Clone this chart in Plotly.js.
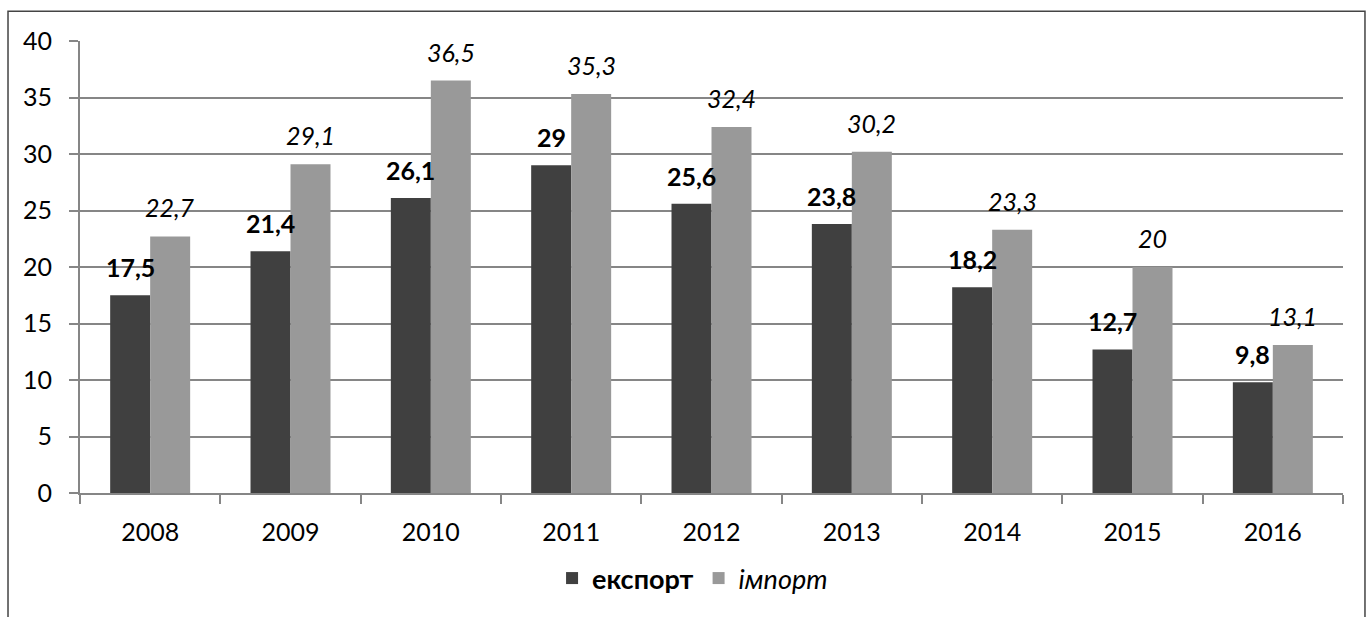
<!DOCTYPE html>
<html>
<head>
<meta charset="utf-8">
<script src="https://cdn.plot.ly/plotly-3.0.1.min.js"></script>
<style>
html,body{margin:0;padding:0;background:#fff;}
#chart{width:1370px;height:617px;}
</style>
</head>
<body>
<div id="chart"></div>
<script>
const years = ['2008','2009','2010','2011','2012','2013','2014','2015','2016'];
const exportValues = [17.5, 21.4, 26.1, 29, 25.6, 23.8, 18.2, 12.7, 9.8];
const importValues = [22.7, 29.1, 36.5, 35.3, 32.4, 30.2, 23.3, 20, 13.1];
const exportName = 'експорт';
const importName = 'імпорт';
const yTicks = [0, 5, 10, 15, 20, 25, 30, 35, 40];

const FONT = 'Lato, "Open Sans", "DejaVu Sans", sans-serif';
const fmt = v => String(v).replace('.', ',');

const traces = [
  {type:'bar', x: years, y: exportValues, name: '<b>' + exportName + '</b>',
   marker:{color:'#404040'}, hoverinfo:'skip'},
  {type:'bar', x: years, y: importValues, name: '<i>' + importName + '</i>',
   marker:{color:'#999999'}, hoverinfo:'skip'}
];

const annotations = [];
years.forEach((yr, i) => {
  annotations.push({x: i, y: exportValues[i], xref:'x', yref:'y', text:'<b>' + fmt(exportValues[i]) + '</b>',
    showarrow:false, xshift:-20, yshift:28, yanchor:'middle', font:{family:FONT, size:25, color:'#000'}});
  annotations.push({x: i, y: importValues[i], xref:'x', yref:'y', text:'<i>' + fmt(importValues[i]) + '</i>',
    showarrow:false, xshift:20, yshift:29, yanchor:'middle', font:{family:FONT, size:25, color:'#000'}});
});

const layout = {
  width:1370, height:617,
  margin:{l:80, r:27, t:41, b:124},
  paper_bgcolor:'#fff', plot_bgcolor:'#fff',
  barmode:'group', bargap:0.43, bargroupgap:0,
  font:{family:FONT, size:25, color:'#000'},
  showlegend:true,
  legend:{orientation:'h', x:0.485, xanchor:'center', y:-0.135, yanchor:'top',
    font:{family:FONT, size:27, color:'#000'}, traceorder:'normal', itemclick:false},
  xaxis:{type:'category', range:[-0.5, 8.5], autorange:false, automargin:false, showgrid:false, showline:true, linecolor:'#868686', linewidth:2,
    ticks:'outside', tickson:'boundaries', ticklen:9, tickcolor:'#868686', tickwidth:2, tickangle:0,
    tickfont:{family:FONT, size:25, color:'#000'}, ticklabelstandoff:16, fixedrange:true},
  yaxis:{range:[0,40], autorange:false, automargin:false, tickvals:yTicks, ticktext:yTicks.map(String), showgrid:true, gridcolor:'#868686', gridwidth:2,
    showline:true, linecolor:'#868686', linewidth:2, ticks:'outside', ticklen:9, tickcolor:'#868686', tickwidth:2,
    zeroline:false, tickfont:{family:FONT, size:25, color:'#000'}, ticklabelstandoff:12, fixedrange:true},
  annotations: annotations,
  shapes:[{type:'rect', xref:'paper', yref:'paper', x0:-0.057, x1:1.0174, y0:-0.4, y1:1.066,
    line:{color:'#444444', width:1.5}, fillcolor:'rgba(0,0,0,0)', layer:'below'}]
};

Plotly.newPlot('chart', traces, layout, {staticPlot:true, displayModeBar:false});
</script>
</body>
</html>
